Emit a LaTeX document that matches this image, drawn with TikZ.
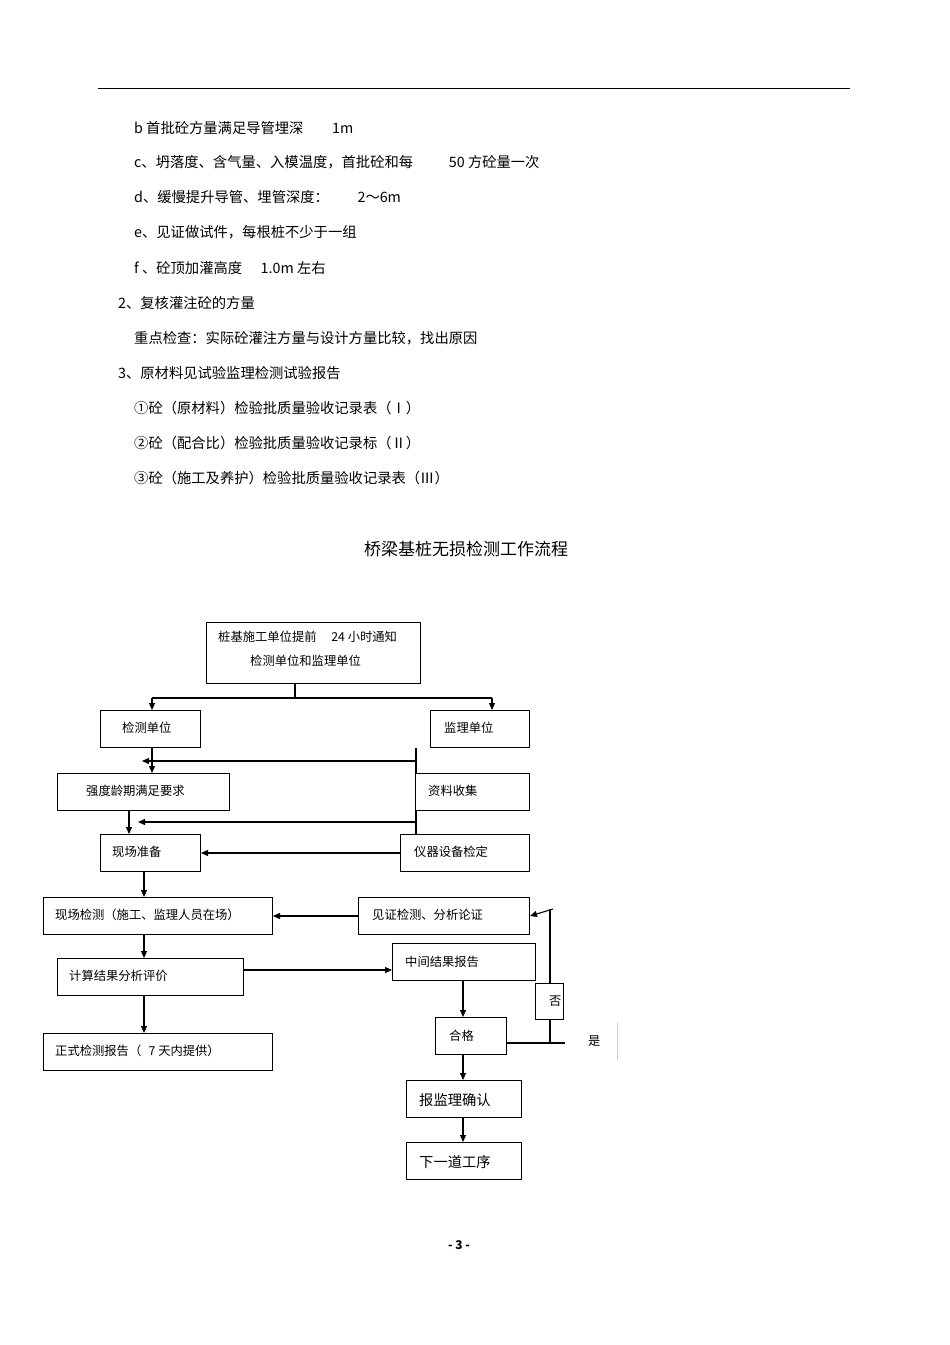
\documentclass[tikz,border=0pt]{standalone}
\usepackage{fontspec}
\setmainfont{Noto Sans CJK SC}
\usetikzlibrary{arrows.meta}
\begin{document}
\begin{tikzpicture}[x=1pt,y=-1pt,
  box/.style={draw,line width=1pt,anchor=north west,inner sep=0pt},
  tx/.style={anchor=west,inner sep=0pt,font=\fontsize{12.3}{14}\selectfont},
  bt/.style={anchor=west,inner sep=0pt,font=\fontsize{14.3}{16}\selectfont},
  ln/.style={line width=1.1pt},
  ar/.style={line width=1.1pt,-{Triangle[length=7pt,width=6pt]}}]
\useasboundingbox (0,0) rectangle (950,1345);
\draw[line width=0.8pt] (98,88) -- (850,88);
\node[bt] at (134,128) {b 首批砼方量满足导管埋深\hspace{2em}1m};
\node[bt] at (134,162) {c、坍落度、含气量、入模温度，首批砼和每\hspace{2.5em}50 方砼量一次};
\node[bt] at (134,197) {d、缓慢提升导管、埋管深度：\hspace{2em}2～6m};
\node[bt] at (134,232) {e、见证做试件，每根桩不少于一组};
\node[bt] at (134,268) {f 、砼顶加灌高度\hspace{1.3em}1.0m 左右};
\node[bt] at (118,303) {2、复核灌注砼的方量};
\node[bt] at (134,338) {重点检查：实际砼灌注方量与设计方量比较，找出原因};
\node[bt] at (118,373) {3、原材料见试验监理检测试验报告};
\node[bt] at (134,408) {①砼（原材料）检验批质量验收记录表（Ⅰ）};
\node[bt] at (134,443) {②砼（配合比）检验批质量验收记录标（Ⅱ）};
\node[bt] at (134,478) {③砼（施工及养护）检验批质量验收记录表（Ⅲ）};
\node[anchor=center,inner sep=0pt,font=\fontsize{17}{19}\selectfont] (title) at (466,549) {桥梁基桩无损检测工作流程};

% boxes
\node[box,minimum width=214pt,minimum height=61pt] (top) at (206,622) {};
\node[tx] at (218,637) {桩基施工单位提前\hspace{1.2em}24 小时通知};
\node[tx] at (250,661) {检测单位和监理单位};
\node[box,minimum width=100pt,minimum height=37pt] (jc) at (100,710) {};
\node[tx] at (122,728) {检测单位};
\node[box,minimum width=99pt,minimum height=37pt] (jl) at (430,710) {};
\node[tx] at (444,728) {监理单位};
\node[box,minimum width=172pt,minimum height=37pt] (qd) at (57,773) {};
\node[tx] at (86,791) {强度龄期满足要求};
\node[box,minimum width=114pt,minimum height=37pt] (zl) at (415,773) {};
\node[tx] at (428,791) {资料收集};
\node[box,minimum width=100pt,minimum height=37pt] (xz) at (100,834) {};
\node[tx] at (112,852) {现场准备};
\node[box,minimum width=129pt,minimum height=37pt] (yq) at (400,834) {};
\node[tx] at (414,852) {仪器设备检定};
\node[box,minimum width=229pt,minimum height=37pt] (xj) at (43,897) {};
\node[tx] at (55,915) {现场检测（施工、监理人员在场）};
\node[box,minimum width=171pt,minimum height=37pt] (jz) at (358,897) {};
\node[tx] at (372,915) {见证检测、分析论证};
\node[box,minimum width=186pt,minimum height=37pt] (js) at (57,958) {};
\node[tx] at (69,976) {计算结果分析评价};
\node[box,minimum width=143pt,minimum height=37pt] (zj) at (392,943) {};
\node[tx] at (405,962) {中间结果报告};
\node[box,minimum width=28pt,minimum height=36pt] (fou) at (535,983) {};
\node[tx] at (549,1001) {否};
\node[box,minimum width=71pt,minimum height=37pt] (hg) at (435,1017) {};
\node[tx] at (449,1036) {合格};
\node[box,minimum width=229pt,minimum height=37pt] (zs) at (43,1033) {};
\node[tx] at (55,1051) {正式检测报告（\hspace{0.6em}7 天内提供）};
\node[box,minimum width=115pt,minimum height=37pt] (bj) at (406,1080) {};
\node[tx,font=\fontsize{14.3}{16}\selectfont] at (419,1100) {报监理确认};
\node[box,minimum width=115pt,minimum height=37pt] (xy) at (406,1142) {};
\node[tx,font=\fontsize{14.3}{16}\selectfont] at (419,1162) {下一道工序};
\node[tx] (shi) at (588,1041) {是};
\draw[gray!40,line width=0.5pt] (617,1022) -- (617,1060);

% connectors
\coordinate (sp) at (295,698);
\draw[ln] (295,683) -- (sp);
\draw[ln] (152,698) -- (492,698);
\draw[ar] (152,698) -- (jc.north -| 152,0);
\draw[ar] (492,698) -- (jl.north -| 492,0);
\draw[ar] (jc.south -| 152,0) -- (qd.north -| 152,0);
\draw[ln] (jl.south -| 416,0) -- (zl.north -| 416,0);
\draw[ar] (416,761) -- (142,761);
\draw[ar] (qd.south -| 129,0) -- (xz.north -| 129,0);
\draw[ln] (zl.south -| 416,0) -- (yq.north -| 416,0);
\draw[ar] (416,822) -- (138,822);
\draw[ar] (yq.west) -- (xz.east);
\draw[ar] (xz.south -| 144,0) -- (xj.north -| 144,0);
\draw[ar] (jz.west) -- (xj.east);
\draw[ar] (xj.south -| 144,0) -- (js.north -| 144,0);
\draw[ar] (js.south -| 144,0) -- (zs.north -| 144,0);
\draw[ar] (js.east |- 0,970) -- (zj.west |- 0,970);
\draw[ar] (zj.south -| 463,0) -- (hg.north -| 463,0);
\draw[ln] (hg.east |- 0,1043) -- (565,1043);
\draw[ln] (550,1043) -- (fou.south -| 550,0);
\draw[ln] (fou.north -| 550,0) -- (550,909);
\draw[ar] (553,909) -- (jz.east);
\draw[ar] (hg.south -| 463,0) -- (bj.north -| 463,0);
\draw[ar] (bj.south -| 463,0) -- (xy.north -| 463,0);

\node[anchor=center,inner sep=0pt,font=\bfseries\fontsize{12}{14}\selectfont] (pg) at (459,1245) {- 3 -};
\end{tikzpicture}
\end{document}
